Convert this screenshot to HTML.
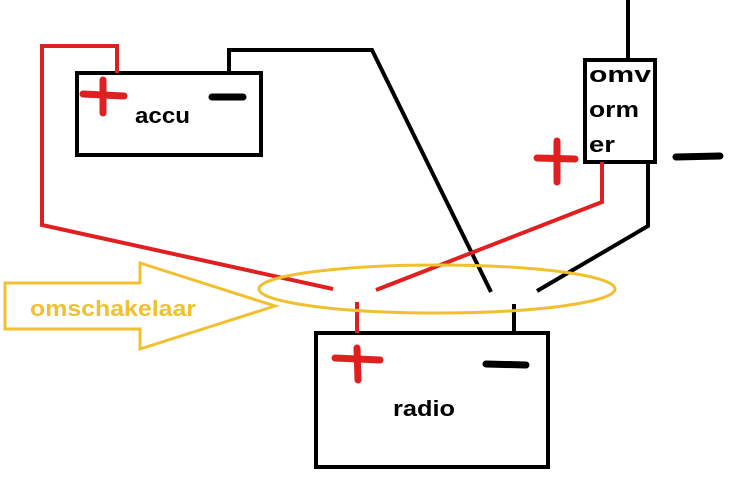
<!DOCTYPE html>
<html><head><style>html,body{margin:0;padding:0;background:#fff}svg{display:block}</style></head>
<body>
<svg width="739" height="485" viewBox="0 0 739 485" xmlns="http://www.w3.org/2000/svg" font-family="Liberation Sans, sans-serif" font-weight="bold">
<rect x="0" y="0" width="739" height="485" fill="#fff"/>
<!-- boxes -->
<rect x="77" y="73" width="184" height="82" fill="none" stroke="#000" stroke-width="4"/>
<rect x="316" y="333" width="232" height="134" fill="none" stroke="#000" stroke-width="4"/>
<rect x="585" y="60" width="70" height="102" fill="none" stroke="#000" stroke-width="4"/>
<!-- black wires -->
<polyline points="628,0 628,60" fill="none" stroke="#000" stroke-width="4"/>
<polyline points="229,73 229,50 372,50 491,292" fill="none" stroke="#000" stroke-width="4"/>
<polyline points="648,162 648,226 537,291" fill="none" stroke="#000" stroke-width="4"/>
<polyline points="514,304 514,333" fill="none" stroke="#000" stroke-width="4"/>
<!-- red wires -->
<polyline points="117,73 117,46 42,46 42,225 333,289" fill="none" stroke="#e02020" stroke-width="4"/>
<polyline points="602,162 602,202 376,290" fill="none" stroke="#e02020" stroke-width="4"/>
<polyline points="357,302 357,333" fill="none" stroke="#e02020" stroke-width="4"/>
<!-- ellipse -->
<ellipse cx="437" cy="289" rx="178" ry="24" fill="none" stroke="#f0c030" stroke-width="3"/>
<!-- arrow -->
<polygon points="5,283 140,283 140,263 275,306 140,349 140,329 5,329" fill="none" stroke="#f0c030" stroke-width="3"/>
<text x="30" y="316" font-size="22" fill="#f0c030" textLength="166" lengthAdjust="spacingAndGlyphs">omschakelaar</text>
<!-- pluses -->
<g stroke="#e02020" stroke-width="7" stroke-linecap="round">
<line x1="83" y1="94" x2="124" y2="96"/><line x1="103" y1="80" x2="103" y2="113"/>
<line x1="537" y1="158" x2="575" y2="159"/><line x1="557" y1="141" x2="557" y2="182"/>
<line x1="335" y1="358" x2="380" y2="360"/><line x1="357" y1="348" x2="358" y2="380"/>
</g>
<!-- minuses -->
<g stroke="#000" stroke-width="7" stroke-linecap="round">
<line x1="212" y1="97" x2="243" y2="97"/>
<line x1="676" y1="157" x2="720" y2="156"/>
<line x1="486" y1="364" x2="526" y2="365"/>
</g>
<text x="135" y="123" font-size="22" fill="#000" textLength="55" lengthAdjust="spacingAndGlyphs">accu</text>
<text x="393" y="416" font-size="22" fill="#000" textLength="62" lengthAdjust="spacingAndGlyphs">radio</text>
<text x="589" y="82" font-size="22" fill="#000" textLength="62" lengthAdjust="spacingAndGlyphs">omv</text>
<text x="589" y="117" font-size="22" fill="#000" textLength="50" lengthAdjust="spacingAndGlyphs">orm</text>
<text x="589" y="152" font-size="22" fill="#000" textLength="26" lengthAdjust="spacingAndGlyphs">er</text>
</svg>
</body></html>
